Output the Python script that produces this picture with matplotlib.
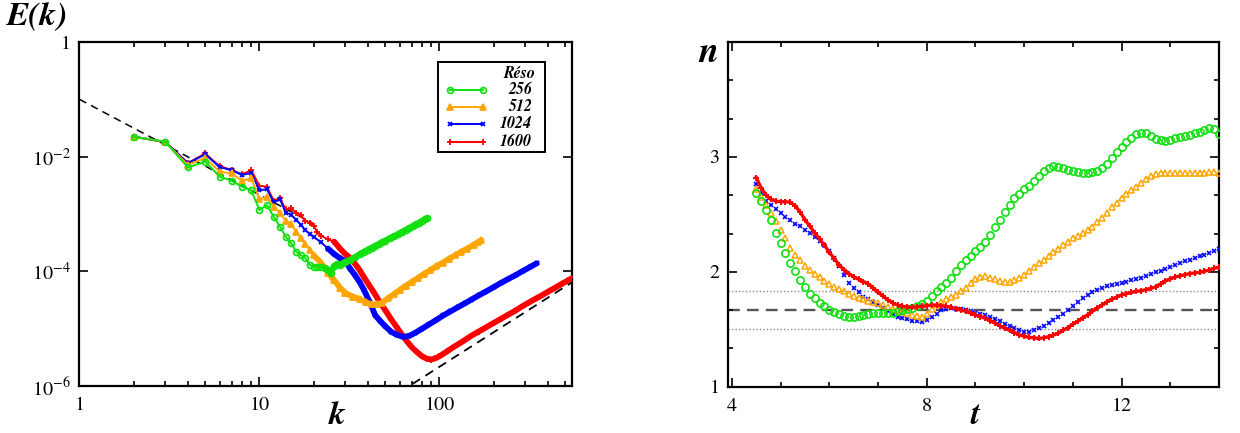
import numpy as np
import matplotlib
matplotlib.use('Agg')
import matplotlib.pyplot as plt
from matplotlib.ticker import FixedLocator, FixedFormatter, NullFormatter
from matplotlib.lines import Line2D
from matplotlib.patches import Rectangle

plt.rcParams['font.family'] = ['STIXGeneral', 'DejaVu Serif']
plt.rcParams['mathtext.fontset'] = 'stix'

# ---------------- data: left panel, spectra E(k) ----------------
res_labels = ['256', '512', '1024', '1600']

k_256 = [2, 3, 4, 5, 6, 7, 8, 9, 10, 11, 12, 13, 14, 15, 16, 17, 18, 19, 20, 21, 22, 23, 24, 25,
         26, 27, 28, 29, 30, 32, 34, 36, 38, 40, 42, 44, 46, 48, 50, 53, 56, 59, 62, 65, 68,
         71, 74, 77, 80, 83, 85]
E_256 = [0.0223, 0.0182, 0.0065, 0.0082, 0.0045, 0.0038, 0.0030, 0.0026, 0.00117, 0.00143,
         0.0009, 0.0006, 0.0004, 0.00031, 0.00022, 0.00019, 0.00017, 0.00013, 0.00012, 0.00012,
         0.00012, 0.000115, 0.000105, 9.5e-5, 0.000125, 0.000135, 0.00013, 0.000138, 0.000145,
         0.00016, 0.000175, 0.0002, 0.00022, 0.00024, 0.00026, 0.00028, 0.0003, 0.000325,
         0.000345, 0.00038, 0.00041, 0.00045, 0.00049, 0.00053, 0.00057, 0.00062, 0.00066,
         0.00071, 0.00076, 0.00081, 0.00084]

k_512 = [2, 3, 4, 5, 6, 7, 8, 9, 10, 11, 12, 13, 14, 15, 16, 17, 18, 19, 20, 22, 24, 26, 28, 30,
         33, 36, 39, 42, 45, 48, 52, 56, 60, 65, 70, 76, 82, 89, 96, 104, 113, 122, 132, 143,
         155, 163, 171]
E_512 = [0.0223, 0.018, 0.0072, 0.0095, 0.0055, 0.0051, 0.0038, 0.0042, 0.0018, 0.0020,
         0.00135, 0.00105, 0.00075, 0.00068, 0.00048, 0.00038, 0.0003, 0.00024, 0.00019,
         0.00014, 9.5e-5, 7e-5, 5.2e-5, 4.2e-5, 3.6e-5, 3.3e-5, 2.9e-5, 2.65e-5, 2.65e-5,
         2.85e-5, 3.4e-5, 4.0e-5, 4.7e-5, 5.6e-5, 6.5e-5, 7.7e-5, 9.0e-5, 0.000105, 0.000122,
         0.000141, 0.000165, 0.00019, 0.00022, 0.00025, 0.00029, 0.00032, 0.00035]

k_1024 = [2, 3, 4, 5, 6, 7, 8, 9, 10, 11, 12, 13, 14, 15, 16, 17, 18, 19, 20, 22, 24, 26, 28, 30,
          32, 34, 36, 38, 41, 44, 47, 50, 54, 58, 63, 68, 73, 80, 88, 96, 105, 115, 126, 138,
          150, 165, 180, 200, 220, 240, 265, 290, 320, 347]
E_1024 = [0.0223, 0.018, 0.0077, 0.011, 0.0066, 0.0058, 0.0048, 0.0052, 0.0026, 0.0027, 0.0016,
          0.0018, 0.00105, 0.00098, 0.00079, 0.00065, 0.00052, 0.00045, 0.0004, 0.00032,
          0.00025, 0.0002, 0.00017, 0.00015, 0.00011, 8.5e-5, 6.5e-5, 4.8e-5, 2.9e-5, 1.7e-5,
          1.35e-5, 1.1e-5, 8.8e-6, 7.8e-6, 7.2e-6, 7.5e-6, 8.4e-6, 1.0e-5, 1.2e-5, 1.42e-5,
          1.7e-5, 2.0e-5, 2.35e-5, 2.75e-5, 3.2e-5, 3.8e-5, 4.4e-5, 5.3e-5, 6.3e-5, 7.3e-5,
          8.6e-5, 0.000101, 0.00012, 0.000138]

k_1600 = [2, 3, 4, 5, 6, 7, 8, 9, 10, 11, 12, 13, 14, 15, 16, 17, 18, 19, 20, 21, 22, 24, 26, 28,
          30, 32, 34, 36, 38, 40, 43, 46, 50, 54, 58, 62, 66, 70, 75, 80, 85, 90, 95, 100, 110,
          120, 130, 140, 150, 165, 180, 200, 220, 240, 260, 285, 310, 340, 370, 400, 440, 480,
          520, 560]
E_1600 = [0.0223, 0.018, 0.0077, 0.0114, 0.0068, 0.0059, 0.0049, 0.0058, 0.0031, 0.0030, 0.0017,
          0.0019, 0.0012, 0.00125, 0.00105, 0.00095, 0.00075, 0.0007, 0.00062, 0.00048, 0.00042,
          0.00036, 0.00033, 0.00025, 0.0002, 0.00017, 0.000135, 0.000105, 8e-5, 6.2e-5, 4.4e-5,
          3.1e-5, 2.1e-5, 1.45e-5, 1.05e-5, 7.8e-6, 6.0e-6, 4.8e-6, 3.9e-6, 3.3e-6, 3.0e-6,
          2.9e-6, 3.05e-6, 3.3e-6, 4.0e-6, 4.8e-6, 5.6e-6, 6.5e-6, 7.5e-6, 8.9e-6, 1.04e-5,
          1.26e-5, 1.49e-5, 1.75e-5, 2.0e-5, 2.4e-5, 2.8e-5, 3.3e-5, 3.8e-5, 4.4e-5, 5.2e-5,
          6.1e-5, 7.0e-5, 8.0e-5]

# reference power laws (k^-5/3 and k^2)
kol_k = [1, 20]
kol_E = [0.1, 6.8e-4]
equi_k = [60, 560]
equi_E = [7.8e-7, 6.8e-5]

# ---------------- data: right panel, n(t) ----------------
t_vals = [4.5, 4.6, 4.7, 4.8, 4.9,
          5.0, 5.1, 5.2, 5.3, 5.4, 5.5, 5.6, 5.7, 5.8, 5.9,
          6.0, 6.1, 6.2, 6.3, 6.4, 6.5, 6.6, 6.7, 6.8, 6.9,
          7.0, 7.1, 7.2, 7.3, 7.4, 7.5, 7.6, 7.7, 7.8, 7.9,
          8.0, 8.1, 8.2, 8.3, 8.4, 8.5, 8.6, 8.7, 8.8, 8.9,
          9.0, 9.1, 9.2, 9.3, 9.4, 9.5, 9.6, 9.7, 9.8, 9.9,
          10.0, 10.1, 10.2, 10.3, 10.4, 10.5, 10.6, 10.7, 10.8, 10.9,
          11.0, 11.1, 11.2, 11.3, 11.4, 11.5, 11.6, 11.7, 11.8, 11.9,
          12.0, 12.1, 12.2, 12.3, 12.4, 12.5, 12.6, 12.7, 12.8, 12.9,
          13.0, 13.1, 13.2, 13.3, 13.4, 13.5, 13.6, 13.7, 13.8, 13.9,
          14.0]

n_256 = [2.69, 2.62, 2.54, 2.45, 2.34,
         2.25, 2.16, 2.08, 2.01, 1.93, 1.87, 1.81, 1.77, 1.73, 1.70,
         1.67, 1.65, 1.63, 1.615, 1.61, 1.61, 1.615, 1.625, 1.635, 1.64,
         1.64, 1.64, 1.64, 1.645, 1.655, 1.667, 1.675, 1.685, 1.70, 1.72,
         1.75, 1.79, 1.83, 1.865, 1.90, 1.95, 2.01, 2.06, 2.10, 2.14,
         2.18, 2.22, 2.26, 2.32, 2.39, 2.45, 2.52, 2.58, 2.64, 2.68,
         2.72, 2.75, 2.79, 2.83, 2.88, 2.905, 2.92, 2.915, 2.905, 2.89,
         2.88, 2.865, 2.86, 2.86, 2.865, 2.875, 2.90, 2.94, 2.99, 3.04,
         3.09, 3.13, 3.165, 3.195, 3.21, 3.21, 3.18, 3.155, 3.145, 3.14,
         3.15, 3.165, 3.175, 3.185, 3.19, 3.21, 3.22, 3.235, 3.25, 3.24,
         3.20]

n_512 = [2.72, 2.65, 2.58, 2.51, 2.44,
         2.36, 2.29, 2.21, 2.15, 2.10, 2.05, 2.015, 1.985, 1.955, 1.92,
         1.895, 1.87, 1.85, 1.83, 1.81, 1.79, 1.775, 1.76, 1.75, 1.74,
         1.725, 1.71, 1.695, 1.68, 1.665, 1.65, 1.64, 1.625, 1.615, 1.61,
         1.635, 1.675, 1.71, 1.74, 1.765, 1.785, 1.80, 1.83, 1.86, 1.90,
         1.935, 1.955, 1.96, 1.95, 1.935, 1.92, 1.91, 1.915, 1.925, 1.945,
         1.975, 2.01, 2.045, 2.075, 2.105, 2.14, 2.17, 2.20, 2.23, 2.26,
         2.29, 2.31, 2.335, 2.36, 2.39, 2.43, 2.47, 2.51, 2.56, 2.60,
         2.645, 2.68, 2.71, 2.74, 2.775, 2.81, 2.835, 2.85, 2.86, 2.86,
         2.86, 2.86, 2.86, 2.86, 2.86, 2.86, 2.86, 2.86, 2.865, 2.865,
         2.86]

n_1024 = [2.76, 2.69, 2.62, 2.58, 2.545,
          2.51, 2.48, 2.45, 2.42, 2.395, 2.365, 2.335, 2.305, 2.27, 2.23,
          2.18, 2.12, 2.05, 1.97, 1.90, 1.86, 1.82, 1.785, 1.76, 1.735,
          1.71, 1.685, 1.66, 1.63, 1.61, 1.595, 1.585, 1.575, 1.57, 1.565,
          1.58, 1.605, 1.635, 1.665, 1.68, 1.685, 1.68, 1.675, 1.665, 1.655,
          1.645, 1.635, 1.62, 1.605, 1.59, 1.57, 1.55, 1.53, 1.51, 1.49,
          1.48, 1.48, 1.49, 1.51, 1.53, 1.555, 1.58, 1.61, 1.635, 1.665,
          1.70, 1.735, 1.77, 1.795, 1.82, 1.845, 1.86, 1.875, 1.885, 1.895,
          1.905, 1.915, 1.925, 1.935, 1.95, 1.965, 1.98, 1.995, 2.01, 2.025,
          2.04, 2.06, 2.075, 2.09, 2.105, 2.12, 2.135, 2.15, 2.165, 2.18,
          2.20]

n_1600 = [2.82, 2.73, 2.67, 2.63, 2.615,
          2.61, 2.61, 2.605, 2.575, 2.52, 2.455, 2.395, 2.34, 2.285, 2.23,
          2.17, 2.115, 2.06, 2.02, 1.985, 1.955, 1.935, 1.915, 1.895, 1.86,
          1.82, 1.79, 1.755, 1.73, 1.71, 1.70, 1.695, 1.69, 1.695, 1.70,
          1.705, 1.71, 1.71, 1.705, 1.70, 1.69, 1.68, 1.67, 1.655, 1.64,
          1.625, 1.61, 1.595, 1.575, 1.555, 1.53, 1.51, 1.49, 1.47, 1.45,
          1.44, 1.43, 1.425, 1.42, 1.425, 1.435, 1.45, 1.465, 1.49, 1.515,
          1.545, 1.57, 1.60, 1.625, 1.655, 1.685, 1.71, 1.74, 1.76, 1.78,
          1.80, 1.81, 1.82, 1.83, 1.835, 1.845, 1.855, 1.87, 1.895, 1.92,
          1.94, 1.955, 1.965, 1.975, 1.985, 1.99, 1.995, 2.005, 2.015, 2.03,
          2.04]

n_dotted_levels = [1.5, 11.0 / 6.0]
n_dashed_level = 5.0 / 3.0

# ---------------- styles ----------------
GREEN, ORANGE, BLUE, RED = '#10e010', '#ffa500', '#0000ff', '#ff0000'
BI = dict(fontweight='bold', fontstyle='italic')

fig = plt.figure(figsize=(12.4, 4.33), dpi=100)
axL = fig.add_axes([0.0641, 0.1085, 0.3972, 0.7945])
axR = fig.add_axes([0.5871, 0.1069, 0.3960, 0.7961])

# ---- left panel ----
axL.plot(kol_k, kol_E, color='black', lw=1.1, ls=(0, (5, 3.5)), zorder=2)
axL.plot(equi_k, equi_E, color='black', lw=1.3, ls=(0, (5, 3.5)), zorder=2)

# (k, E, colour, marker, marker size, face colour, k above which markers are packed densely)
left_series = [
    (k_1600, E_1600, RED, '+', 4.5, RED, 26),
    (k_1024, E_1024, BLUE, 'x', 3.5, BLUE, 24),
    (k_512, E_512, ORANGE, '^', 4.5, ORANGE, 20),
    (k_256, E_256, GREEN, 'o', 4.2, 'none', 24),
]
for k, E, c, m, ms, mfc, kd in left_series:
    k = np.asarray(k, float)
    E = np.asarray(E, float)
    axL.plot(k, E, color=c, lw=1.4, marker=m, ms=ms, mfc=mfc, mec=c, mew=1.3, zorder=3)
    sel = k >= kd
    # densely packed markers of the original render as a thick band
    axL.plot(k[sel], E[sel], color=c, lw=4.2, solid_capstyle='round', zorder=3)

axL.set_xscale('log')
axL.set_yscale('log')
axL.set_xlim(1, 545)
axL.set_ylim(1e-6, 1)
axL.xaxis.set_major_locator(FixedLocator([1, 10, 100]))
axL.xaxis.set_major_formatter(FixedFormatter(['1', '10', '100']))
axL.xaxis.set_minor_locator(FixedLocator([2, 3, 4, 5, 6, 7, 8, 9, 20, 30, 40, 50, 60, 70, 80, 90,
                                          200, 300, 400, 500]))
axL.xaxis.set_minor_formatter(NullFormatter())
axL.yaxis.set_major_locator(FixedLocator([1e-6, 1e-4, 1e-2, 1]))
axL.yaxis.set_major_formatter(FixedFormatter([r'$10^{-6}$', r'$10^{-4}$', r'$10^{-2}$', '1']))
axL.yaxis.set_minor_locator(FixedLocator([]))

# legend box (right-aligned labels as in the original)
box = Rectangle((0.728, 0.680), 0.217, 0.262, transform=axL.transAxes, facecolor='white',
                edgecolor='black', lw=1.4, zorder=6)
axL.add_patch(box)
axL.text(0.925, 0.908, 'Réso', transform=axL.transAxes, ha='right', va='center',
         fontsize=11.5, zorder=7, **BI)
leg_rows = [0.860, 0.812, 0.763, 0.710]
leg_styles = [(GREEN, 'o', 4.2, 'none'), (ORANGE, '^', 4.5, ORANGE), (BLUE, 'x', 3.5, BLUE),
              (RED, '+', 4.5, RED)]
for y, lab, (c, m, ms, mfc) in zip(leg_rows, res_labels, leg_styles):
    ln = Line2D([0.752, 0.819], [y, y], transform=axL.transAxes, color=c, lw=1.4, marker=m,
                ms=ms, mfc=mfc, mec=c, mew=1.3, zorder=7)
    axL.add_artist(ln)
    axL.text(0.919, y, lab, transform=axL.transAxes, ha='right', va='center', fontsize=11.5,
             zorder=7, **BI)

# ---- right panel ----
for lvl in n_dotted_levels:
    axR.axhline(lvl, color='#8c8c8c', lw=1.0, ls=(0, (1, 1.5)), zorder=1)
axR.axhline(n_dashed_level, color='#555555', lw=1.7, ls=(0, (5, 3)), zorder=1)

axR.plot(t_vals, n_1024, ls='none', marker='x', ms=3.2, mec=BLUE, mew=1.2, zorder=3)
axR.plot(t_vals, n_1600, color=RED, lw=2.4, marker='+', ms=4.5, mec=RED, mew=1.4, zorder=4)
axR.plot(t_vals, n_512, ls='none', marker='^', ms=4.8, mfc='none', mec=ORANGE, mew=1.1, zorder=3)
axR.plot(t_vals, n_256, ls='none', marker='o', ms=5.2, mfc='none', mec=GREEN, mew=1.2, zorder=3)

axR.set_xlim(3.92, 14.0)
axR.set_ylim(1, 4)
axR.xaxis.set_major_locator(FixedLocator([4, 8, 12]))
axR.xaxis.set_major_formatter(FixedFormatter(['4', '8', '12']))
axR.xaxis.set_minor_locator(FixedLocator([5, 6, 7, 9, 10, 11, 13, 14]))
axR.yaxis.set_major_locator(FixedLocator([1, 2, 3, 4]))
axR.yaxis.set_major_formatter(FixedFormatter(['1', '2', '3', '']))
axR.yaxis.set_minor_locator(FixedLocator([4 / 3, 5 / 3, 7 / 3, 8 / 3, 10 / 3, 11 / 3]))

for ax in (axL, axR):
    for s in ax.spines.values():
        s.set_linewidth(1.6)
    ax.tick_params(which='both', direction='in', top=True, right=True, width=1.2,
                   labelsize=14.5)
    ax.tick_params(which='major', length=6.5)
    ax.tick_params(which='minor', length=3.5)
    ax.tick_params(axis='x', pad=8)
    ax.tick_params(axis='y', pad=6)

# axis titles (bold italic)
fig.text(7 / 1240, 1 - 25 / 433, 'E(k)', fontsize=24, ha='left', va='baseline', **BI)
fig.text(337 / 1240, 1 - 424 / 433, 'k', fontsize=24, ha='center', va='baseline', **BI)
fig.text(698 / 1240, 1 - 62 / 433, 'n', fontsize=26, ha='left', va='baseline', **BI)
fig.text(975 / 1240, 1 - 424 / 433, 't', fontsize=24, ha='center', va='baseline', **BI)

fig.savefig('out.png', dpi=100)
